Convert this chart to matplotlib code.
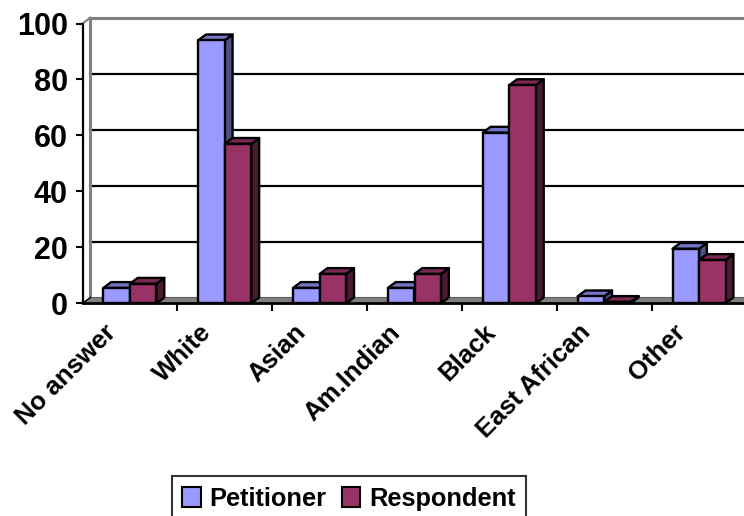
import matplotlib
matplotlib.use("Agg")
import matplotlib.pyplot as plt
from matplotlib.patches import Polygon, Rectangle
from matplotlib.lines import Line2D
import matplotlib.transforms as mtransforms
import numpy as np

categories = ["No answer", "White", "Asian", "Am.Indian", "Black", "East African", "Other"]
petitioner = [5.5, 94, 5.5, 5.5, 61, 2.5, 19.5]
respondent = [7, 57, 10.5, 10.5, 78, 0.5, 15.5]
series_names = ["Petitioner", "Respondent"]
yticks = [0, 20, 40, 60, 80, 100]

face_colors = ["#9999FF", "#993366"]
top_colors = ["#7575C8", "#7A2952"]
side_colors = ["#4F4F85", "#4D1A33"]

plt.rcParams['font.family'] = ['Liberation Sans', 'DejaVu Sans']

W, H = 744, 516
fig = plt.figure(figsize=(W / 100, H / 100), dpi=100)
left_px, right_px = 82.5, 746.5
bot_px, top_px = 303.3, 23.5
ax = fig.add_axes([left_px / W, 1 - bot_px / H, (right_px - left_px) / W, (bot_px - top_px) / H])

n = len(categories)
ax.set_xlim(-0.5, n - 0.5)
ax.set_ylim(0, 100)

# depth offsets in data units (about 8 px right, 6 px up)
px_per_x = (right_px - left_px) / n
px_per_y = (bot_px - top_px) / 100
dx = 7.8 / px_per_x
dy = 5.8 / px_per_y

for s in ax.spines.values():
    s.set_visible(False)

x0, x1 = -0.5, n - 0.5 + 1
# back wall gridlines
for t in yticks[1:-1]:
    ax.add_line(Line2D([x0 + dx, x1], [t + dy, t + dy], color="black", lw=1.6, zorder=1, clip_on=False))
ax.add_line(Line2D([x0 + dx, x1], [100 + dy, 100 + dy], color="#808080", lw=2.2, zorder=1, clip_on=False))
ax.add_line(Line2D([x0 + dx, x0 + dx], [dy, 100 + dy], color="#808080", lw=2.2, zorder=1, clip_on=False))
ax.add_line(Line2D([x0, x0 + dx], [100, 100 + dy], color="#808080", lw=1.5, zorder=1, clip_on=False))
# floor
floor = Polygon([[x0, 0], [x1, 0], [x1 + dx, dy], [x0 + dx, dy]], closed=True,
                facecolor="#808080", edgecolor="#606060", lw=0.8, zorder=2, clip_on=False)
ax.add_patch(floor)
ax.add_line(Line2D([x0, x0 + dx], [0, dy], color="black", lw=1.0, zorder=2, clip_on=False))

# bars
bw = 0.28
xs = np.arange(n)
z = 3
for i in range(n):
    for k, vals in enumerate([petitioner, respondent]):
        v = vals[i]
        xl = xs[i] - bw + k * bw
        xr = xl + bw
        side = Polygon([[xr, 0], [xr + dx, dy], [xr + dx, v + dy], [xr, v]], closed=True,
                       facecolor=side_colors[k], edgecolor="black", lw=1.7, zorder=z, clip_on=False,
                       joinstyle="round")
        top = Polygon([[xl, v], [xr, v], [xr + dx, v + dy], [xl + dx, v + dy]], closed=True,
                      facecolor=top_colors[k], edgecolor="black", lw=1.7, zorder=z, clip_on=False,
                      joinstyle="round")
        front = Rectangle((xl, 0), bw, v, facecolor=face_colors[k], edgecolor="black", lw=1.7,
                          zorder=z + 0.5, clip_on=False, joinstyle="round")
        ax.add_patch(side)
        ax.add_patch(top)
        ax.add_patch(front)
        z += 1

# front axes lines
ax.add_line(Line2D([x0, x0], [0, 100], color="black", lw=1.6, zorder=50, clip_on=False))
ax.add_line(Line2D([x0, x1], [0, 0], color="black", lw=2.0, zorder=50, clip_on=False))

ax.set_yticks(yticks)
ax.set_yticklabels([str(t) for t in yticks], fontsize=22, fontweight="bold")
ax.tick_params(axis="y", length=5, width=1.5, pad=5.5, color="black")

ax.set_xticks(xs)
ax.set_xticklabels(categories, rotation=45, ha="right", va="top", rotation_mode="anchor",
                   fontsize=18.5, fontweight="bold")
ax.tick_params(axis="x", which="major", length=0, pad=12)
ax.set_xticks(np.arange(n) + 0.5, minor=True)
ax.tick_params(axis="x", which="minor", length=6, width=1.5, color="black")
for lbl in ax.get_xticklabels():
    lbl.set_transform(lbl.get_transform() + mtransforms.ScaledTranslation(-0.26, 0, fig.dpi_scale_trans))

handles = [Rectangle((0, 0), 1, 1, facecolor=face_colors[k], edgecolor="black", lw=1.5) for k in range(2)]
leg = fig.legend(handles, series_names, loc="upper left",
                 bbox_to_anchor=(171.7 / W, 1 - 476 / H), frameon=True, fancybox=False,
                 ncol=2, prop={"weight": "bold", "size": 18.3}, handlelength=0.72, handleheight=0.85,
                 handletextpad=0.35, columnspacing=0.6, borderpad=0.42, borderaxespad=0)
leg.get_frame().set_edgecolor("black")
leg.get_frame().set_linewidth(1.5)

fig.savefig("out.png", dpi=100)
